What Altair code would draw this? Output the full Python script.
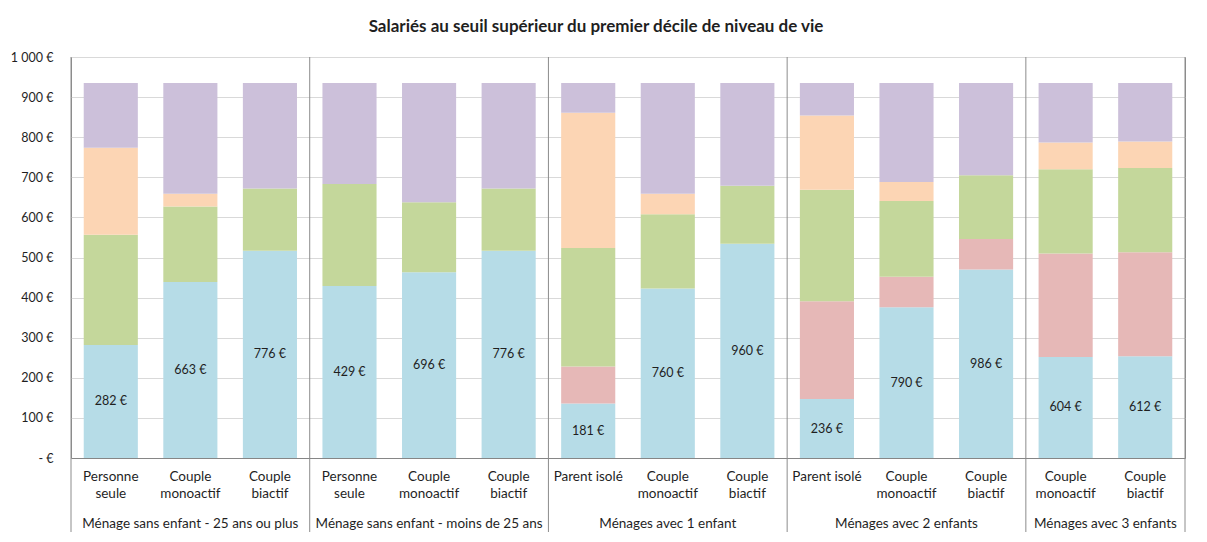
import altair as alt
import pandas as pd
import numpy as np

# ---- data ----
categories = ["Personne\nseule", "Couple\nmonoactif", "Couple\nbiactif",
              "Personne\nseule", "Couple\nmonoactif", "Couple\nbiactif",
              "Parent isolé", "Couple\nmonoactif", "Couple\nbiactif",
              "Parent isolé", "Couple\nmonoactif", "Couple\nbiactif",
              "Couple\nmonoactif", "Couple\nbiactif"]
groups = ["Ménage sans enfant - 25 ans ou plus",
          "Ménage sans enfant - moins de 25 ans",
          "Ménages avec 1 enfant",
          "Ménages avec 2 enfants",
          "Ménages avec 3 enfants"]
group_sizes = [3, 3, 3, 3, 2]

series_names = ["Composante 1", "Composante 2", "Composante 3", "Composante 4", "Composante 5"]
s_blue = [282, 439, 517, 429, 463, 517, 136, 423, 534, 147, 376, 470, 252, 254]
s_pink = [0, 0, 0, 0, 0, 0, 92, 0, 0, 244, 76, 76, 258, 259]
s_green = [275, 188, 155, 254, 175, 155, 296, 185, 145, 278, 189, 159, 210, 210]
s_peach = [217, 32, 0, 0, 0, 0, 337, 51, 0, 185, 47, 0, 67, 66]
s_purple = [161, 276, 263, 252, 297, 263, 74, 276, 256, 81, 247, 230, 148, 146]
bar_labels = ["282 €", "663 €", "776 €", "429 €", "696 €", "776 €", "181 €",
              "760 €", "960 €", "236 €", "790 €", "986 €", "604 €", "612 €"]
colors = ["#B6DCE7", "#E6B8B7", "#C4D79B", "#FCD5B4", "#CCC0DA"]

W, H = 1114, 401
FONT = "Lato"
TXT = "#1f1f1f"

cids = [f"c{i:02d}" for i in range(len(categories))]
series_vals = [s_blue, s_pink, s_green, s_peach, s_purple]
rows = []
for k, (name, vals) in enumerate(zip(series_names, series_vals)):
    for i, v in enumerate(vals):
        rows.append({"cid": cids[i], "series": name, "order": k, "value": v})
df = pd.DataFrame(rows)

df_lab = pd.DataFrame({"cid": cids, "label": bar_labels, "blue": s_blue})
df_cat = pd.DataFrame({"cid": cids, "name": categories})
df_grp = pd.DataFrame({"group": groups, "size": group_sizes, "idx": range(len(groups))})
total = int(sum(group_sizes))
bounds = [0] + [int(b) for b in np.cumsum(group_sizes)]
df_sep = pd.DataFrame({"pos": bounds})

band = alt.Scale(paddingInner=0, paddingOuter=0)

xband = alt.X("cid:N", sort=cids, scale=band,
              axis=alt.Axis(labels=False, ticks=False, title=None, grid=False,
                            domainColor="#868686", domainWidth=1))

yaxis = alt.Axis(values=list(range(0, 1001, 100)),
                 labelExpr="datum.value == 0 ? '-   €' : replace(format(datum.value, ','), ',', ' ') + ' €'",
                 grid=True, gridColor="#D9D9D9", domain=False, ticks=False,
                 labelPadding=18, labelFont=FONT, labelFontSize=12.5,
                 labelColor=TXT, title=None)
yscale = alt.Scale(domain=[0, 1000], nice=False)

bars = alt.Chart(df).mark_bar(width=alt.RelativeBandSize(0.68)).encode(
    x=xband,
    y=alt.Y("value:Q", stack="zero", scale=yscale, axis=yaxis),
    color=alt.Color("series:N", scale=alt.Scale(domain=series_names, range=colors), legend=None),
    order=alt.Order("order:Q"),
)

labels = alt.Chart(df_lab).transform_calculate(half="datum.blue / 2").mark_text(
    font=FONT, fontSize=12.5, color=TXT
).encode(
    x=alt.X("cid:N", sort=cids, scale=band, axis=None),
    y=alt.Y("half:Q", scale=yscale, axis=yaxis),
    text="label:N",
)

cat_text = alt.Chart(df_cat).mark_text(
    font=FONT, fontSize=13.5, color=TXT, baseline="top", lineBreak="\n", lineHeight=17
).encode(
    x=alt.X("cid:N", sort=cids, scale=band, axis=None),
    y=alt.value(H + 12),
    text="name:N",
)

xlin = alt.Scale(domain=[0, total], nice=False, zero=False)

grp_text = alt.Chart(df_grp).transform_window(
    cum="sum(size)", sort=[alt.SortField("idx")], frame=[None, 0]
).transform_calculate(
    mid="datum.cum - datum.size / 2"
).mark_text(font=FONT, fontSize=13.5, color=TXT, baseline="middle").encode(
    x=alt.X("mid:Q", scale=xlin, axis=None),
    y=alt.value(H + 66),
    text="group:N",
)

seps = alt.Chart(df_sep).mark_rule(color="#8C8C8C", strokeWidth=1).encode(
    x=alt.X("pos:Q", scale=xlin, axis=None),
    y=alt.value(0),
    y2=alt.value(H + 74),
)

chart = alt.layer(bars, labels, cat_text, grp_text, seps).resolve_scale(
    x="independent"
).properties(
    width=W, height=H,
    autosize=alt.AutoSizeParams(type="none"),
    padding={"left": 63, "top": 49, "right": 14, "bottom": 76},
    title=alt.TitleParams(
        "Salariés au seuil supérieur du premier décile de niveau de vie",
        font=FONT, fontSize=17, fontWeight="bold", color=TXT,
        anchor="middle", dx=-32, offset=15,
    ),
).configure_view(stroke="#8C8C8C", strokeWidth=1)

chart.save("out.html", embed_options={"renderer": "svg", "actions": False})
